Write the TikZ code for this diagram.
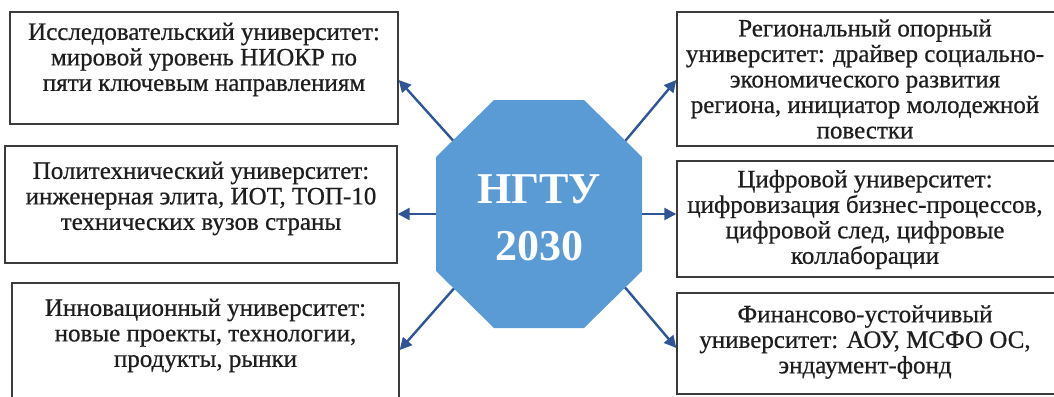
\documentclass[tikz,border=0pt]{standalone}
\usepackage{fontspec}
\setmainfont{Liberation Serif}
\newfontfamily\boxserif{Liberation Serif}[FakeBold=0.6]
\usetikzlibrary{arrows.meta,calc}
\definecolor{octblue}{HTML}{5B9BD5}
\definecolor{arrblue}{HTML}{2F5597}
\definecolor{boxline}{HTML}{3C3C3C}
\definecolor{txt}{HTML}{1E1E1E}
\tikzset{
  frame/.style={draw=boxline, line width=1.4pt, fill=white, inner sep=0pt},
  boxtext/.style={text=txt, align=center, inner sep=0pt, font=\boxserif\fontsize{25}{25.5}\selectfont},
  conn/.style={draw=arrblue, line width=2.4pt, -{Triangle[length=12pt,width=12pt]}},
}
\begin{document}
\begin{tikzpicture}[x=1pt,y=-1pt]
\useasboundingbox (0,0) rectangle (1054,396);
\clip (0,0) rectangle (1054,396);
% frames
\node[frame, minimum width=388pt, minimum height=112pt] (b1) at (204,68) {};
\node[frame, minimum width=392pt, minimum height=117pt] (b2) at (201,204.5) {};
\node[frame, minimum width=387pt, minimum height=120pt] (b3) at (205.5,343) {};
\node[frame, minimum width=379pt, minimum height=134pt] (b4) at (866.5,79) {};
\node[frame, minimum width=379pt, minimum height=116pt] (b5) at (866.5,219) {};
\node[frame, minimum width=379pt, minimum height=101pt] (b6) at (866.5,343.5) {};
% texts
\node[boxtext] (t1) at (204,59.5) {Исследовательский университет:\\мировой уровень НИОКР по\\пяти ключевым направлениям};
\node[boxtext] (t2) at (201,198.5) {Политехнический университет:\\инженерная элита, ИОТ, ТОП-10\\технических вузов страны};
\node[boxtext] (t3) at (205.5,335.5) {Инновационный университет:\\новые проекты, технологии,\\продукты, рынки};
\node[boxtext] (t4) at (865,79) {Региональный опорный\\университет: драйвер социально-\\экономического развития\\региона, инициатор молодежной\\повестки};
\node[boxtext] (t5) at (865,219.5) {Цифровой университет:\\цифровизация бизнес-процессов,\\цифровой след, цифровые\\коллаборации};
\node[boxtext] (t6) at (865,342) {Финансово-устойчивый\\университет: АОУ, МСФО ОС,\\эндаумент-фонд};
% arrow anchors on the octagon
\coordinate (s1) at (458,146);
\coordinate (s2) at (437,214);
\coordinate (s3) at (457,285);
\coordinate (s4) at (621,146);
\coordinate (s5) at (641,214);
\coordinate (s6) at (623,285);
% arrows
\draw[conn] (s1) -- ($(b1.east)+(0,12)$);
\draw[conn] (s2) -- ($(b2.east)+(0,9.5)$);
\draw[conn] (s3) -- ($(b3.east)+(0,7)$);
\draw[conn] (s4) -- ($(b4.west)+(0,1)$);
\draw[conn] (s5) -- ($(b5.west)+(0,-5)$);
\draw[conn] (s6) -- ($(b6.west)+(0,4.5)$);
% octagon
\fill[octblue] (494,100) -- (584,100) -- (642,157) -- (642,271) -- (584,328) -- (494,328) -- (436,271) -- (436,157) -- cycle;
\node[text=white, align=center, inner sep=0pt, font=\fontsize{44}{57}\selectfont\bfseries] (c) at (539,218) {НГТУ\\2030};
\end{tikzpicture}
\end{document}
